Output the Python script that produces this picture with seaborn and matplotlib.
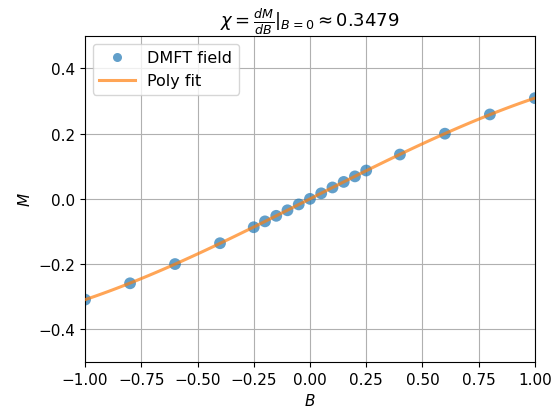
import numpy as np
import pandas as pd
import matplotlib
matplotlib.use("Agg")
import matplotlib.pyplot as plt
from matplotlib.lines import Line2D
import seaborn as sns

B = [-1.0, -0.8, -0.6, -0.4, -0.25, -0.2, -0.15, -0.1, -0.05, 0.0,
     0.05, 0.1, 0.15, 0.2, 0.25, 0.4, 0.6, 0.8, 1.0]
M = [-0.309, -0.259, -0.200, -0.136, -0.087, -0.069, -0.052, -0.035, -0.017, 0.0,
     0.017, 0.035, 0.052, 0.069, 0.087, 0.136, 0.200, 0.259, 0.309]
title = r"$\chi = \frac{dM}{dB}|_{B=0} \approx 0.3479$"

df = pd.DataFrame({"B": B, "M": M})

plt.rcParams["font.family"] = ["DejaVu Sans"]
plt.rcParams["xtick.labelsize"] = 11
plt.rcParams["ytick.labelsize"] = 11
fig, ax = plt.subplots(figsize=(5.56, 4.10), dpi=100)
ax.set_xlim(-1, 1)
ax.set_ylim(-0.5, 0.5)

sns.scatterplot(data=df, x="B", y="M", s=72, color="tab:blue", alpha=0.7,
                edgecolor="none", ax=ax, zorder=2, legend=False)
sns.regplot(data=df, x="B", y="M", order=3, ci=None, scatter=False,
            truncate=False, ax=ax,
            line_kws=dict(color="tab:orange", alpha=0.7, lw=2.2, zorder=3))

ax.set_xlim(-1, 1)
ax.set_ylim(-0.5, 0.5)
ax.set_xticks(np.arange(-1, 1.01, 0.25))
ax.set_yticks([-0.4, -0.2, 0.0, 0.2, 0.4])
ax.grid(True, color="#b0b0b0", lw=0.8)
ax.set_axisbelow(True)
ax.set_xlabel(r"$B$", fontsize=11)
ax.set_ylabel(r"$M$", fontsize=11)
ax.set_title(title, fontsize=13)
handles = [Line2D([], [], ls="none", marker="o", ms=6.5, color="tab:blue", alpha=0.7, mec="none"),
           Line2D([], [], color="tab:orange", alpha=0.7, lw=2.2)]
ax.legend(handles, ["DMFT field", "Poly fit"], loc="upper left", fontsize=11.5,
          handlelength=2.2)
fig.subplots_adjust(left=0.153, right=0.962, top=0.91, bottom=0.115)
fig.savefig("out.png", dpi=100)
